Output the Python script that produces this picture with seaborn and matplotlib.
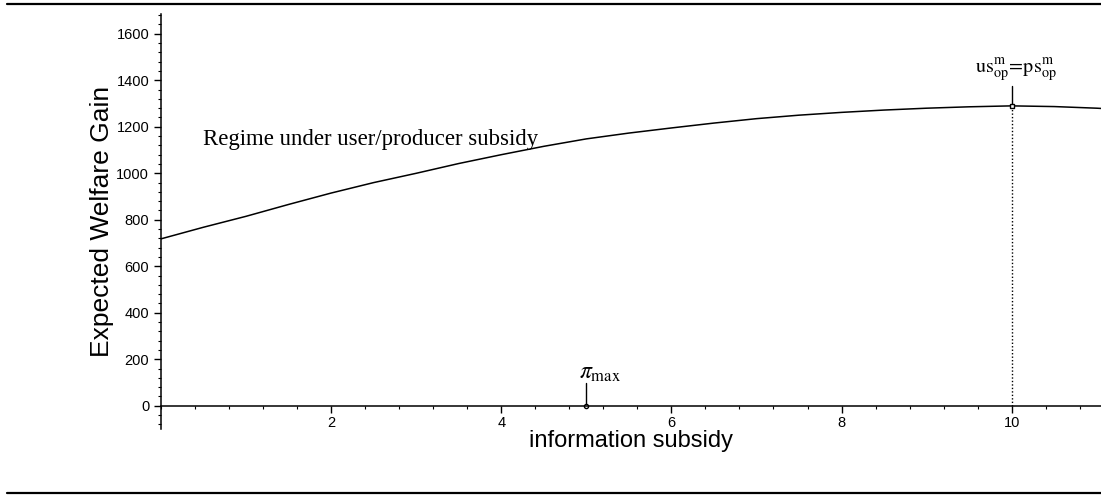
import numpy as np
import pandas as pd
import seaborn as sns
import matplotlib.pyplot as plt
from matplotlib.lines import Line2D
from matplotlib.ticker import MultipleLocator

# values
subsidy = [0, 0.5, 1, 1.5, 2, 2.5, 3, 3.5, 4, 4.5, 5, 5.5, 6, 6.5, 7, 7.5, 8, 8.5, 9, 9.5, 10, 10.5, 11, 11.05]
welfare = [718, 768, 815, 866, 915, 960, 1000, 1042, 1080, 1116, 1148, 1173, 1195, 1216, 1235, 1250,
           1262, 1272, 1280, 1286, 1290, 1287, 1280, 1279]
pi_max = 5
opt_x = 10
opt_y = 1290

df = pd.DataFrame({'subsidy': subsidy, 'welfare': welfare})

sns.set_style('ticks')
plt.rcParams['font.family'] = ['Liberation Sans', 'DejaVu Sans']
plt.rcParams['mathtext.fontset'] = 'stix'
plt.rcParams['text.color'] = 'black'
plt.rcParams['axes.labelcolor'] = 'black'
plt.rcParams['xtick.color'] = 'black'
plt.rcParams['ytick.color'] = 'black'
plt.rcParams['axes.edgecolor'] = 'black'

fig = plt.figure(figsize=(11.01, 4.96), dpi=100)
ax = fig.add_axes([0.1462, 0.135, 0.8538, 0.8367])

sns.lineplot(data=df, x='subsidy', y='welfare', ax=ax, color='black', lw=1.1)

ax.set_xlim(0, 11.05)
ax.set_ylim(-100, 1685)
ax.spines['top'].set_visible(False)
ax.spines['right'].set_visible(False)
ax.spines['bottom'].set_position(('data', 0))
ax.spines['left'].set_linewidth(1.1)
ax.spines['bottom'].set_linewidth(1.1)

ax.xaxis.set_major_locator(MultipleLocator(2))
ax.xaxis.set_minor_locator(MultipleLocator(0.4))
ax.yaxis.set_major_locator(MultipleLocator(200))
ax.yaxis.set_minor_locator(MultipleLocator(40))
ax.set_xticks([2, 4, 6, 8, 10])
ax.tick_params(axis='both', which='major', length=5, width=1, labelsize=10.5, color='black')
ax.tick_params(axis='both', which='minor', length=2.5, width=0.8)
ax.tick_params(axis='x', pad=2)

ax.set_xlabel('information subsidy', fontsize=17, labelpad=0)
ax.set_ylabel('Expected Welfare Gain', fontsize=19, labelpad=2)

# text on curve
ax.text(0.49, 1144, 'Regime under user/producer subsidy', family='Liberation Serif',
        fontsize=16.4, va='center', ha='left')

# pi_max marker
ax.plot([pi_max, pi_max], [0, 99], color='black', lw=1)
ax.plot([pi_max], [0], marker='o', ms=3, mfc='white', mec='black', mew=1)
ax.text(4.91, 95, r'$\pi_{\mathrm{max}}$', fontsize=17, ha='left', va='bottom')

# optimum marker
ax.plot([opt_x, opt_x], [0, opt_y], color='black', lw=1, ls=(0, (1, 1.5)))
ax.plot([opt_x, opt_x], [opt_y, 1376], color='black', lw=1)
ax.plot([opt_x], [opt_y], marker='s', ms=3.5, mfc='white', mec='black', mew=1)
ax.text(opt_x + 0.05, 1385,
        r'$\mathrm{us}_{\mathrm{op}}^{\mathrm{m}}\!=\!\mathrm{ps}_{\mathrm{op}}^{\mathrm{m}}$',
        fontsize=14.5, ha='center', va='bottom')

# rules above and below
fig.add_artist(Line2D([0.006, 1.0], [0.992, 0.992], transform=fig.transFigure, color='black', lw=1.6))
fig.add_artist(Line2D([0.006, 1.0], [0.006, 0.006], transform=fig.transFigure, color='black', lw=1.6))

fig.savefig('out.png', dpi=100)
